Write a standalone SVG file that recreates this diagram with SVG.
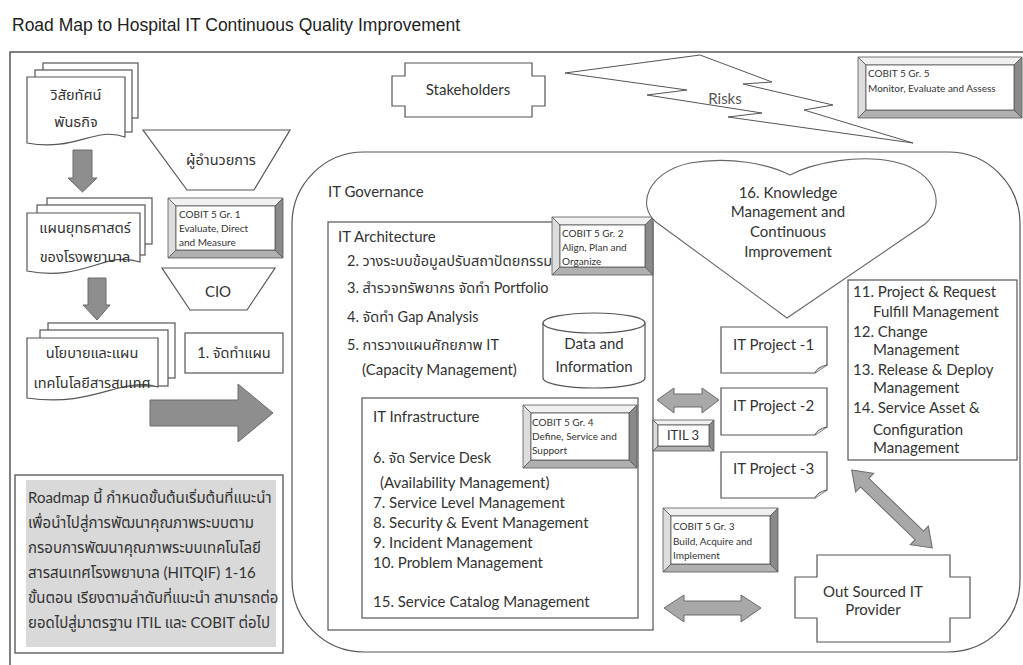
<svg xmlns="http://www.w3.org/2000/svg" width="1023" height="665" viewBox="0 0 1023 665">
  <style>
    .t { font-family: Lato, "Noto Sans Thai", "Noto Sans", "DejaVu Sans", sans-serif; fill: #333; font-size: 15px; }
    .th { font-family: Lato, "Noto Sans Thai", "Noto Sans", "DejaVu Sans", sans-serif; fill: #333; font-size: 14.5px; }
    .note { font-family: Lato, "Noto Sans Thai", "Noto Sans", "DejaVu Sans", sans-serif; fill: #333; font-size: 15px; }
    .s { font-family: Lato, "Noto Sans", sans-serif; fill: #333; font-size: 10px; }
    .m { text-anchor: middle; }
    .box { fill: #fff; stroke: #555; stroke-width: 1.2; }
    .garrow { fill: #8e8e8e; stroke: #6a6a6a; stroke-width: 1; }
    .darrow { fill: #a8a8a8; stroke: #6a6a6a; stroke-width: 1; }
    .bt { fill: #f0f0f0; stroke: #555; stroke-width: 0.8; }
    .bl { fill: #dcdcdc; stroke: #555; stroke-width: 0.8; }
    .br { fill: #8a8a8a; stroke: #555; stroke-width: 0.8; }
    .bb { fill: #b0b0b0; stroke: #555; stroke-width: 0.8; }
    .bf { fill: #fff; stroke: #555; stroke-width: 0.8; }
  </style>

  <rect width="1023" height="665" fill="#fff"/>

  <!-- title -->
  <text x="12" y="31" font-family="Liberation Sans, Arial, sans-serif" font-size="17.5" fill="#222">Road Map to Hospital IT Continuous Quality Improvement</text>

  <!-- outer frame -->
  <rect x="10" y="52" width="1040" height="650" fill="none" stroke="#555" stroke-width="1.5"/>

  <!-- IT Governance container -->
  <g id="it-governance">
    <rect x="292" y="152" width="728" height="500" rx="72" ry="72" class="box"/>
    <text x="328" y="197" class="t">IT Governance</text>
  </g>

  <!-- vision / mission documents -->
  <g id="doc-vision">
    <rect x="43" y="63" width="95" height="55" class="box"/>
    <rect x="35" y="70" width="97" height="62" class="box"/>
    <path d="M27,77 H125 V137 C95,126 75,152 27,143 Z" class="box"/>
    <text x="76" y="100" class="th m">วิสัยทัศน์</text>
    <text x="76" y="127" class="th m">พันธกิจ</text>
  </g>

  <g id="doc-strategy">
    <rect x="47" y="198" width="105" height="46" class="box"/>
    <rect x="37" y="205" width="108" height="50" class="box"/>
    <path d="M27,213 H140 V262 C105,250 85,282 27,271 Z" class="box"/>
    <text x="85" y="233" class="th m">แผนยุทธศาสตร์</text>
    <text x="85" y="262" class="th m">ของโรงพยาบาล</text>
  </g>

  <g id="doc-policy">
    <rect x="48" y="323" width="127" height="55" class="box"/>
    <rect x="40" y="330" width="128" height="56" class="box"/>
    <path d="M27,338 H158 V387 C120,376 95,408 27,398 Z" class="box"/>
    <text x="92" y="358" class="th m">นโยบายและแผน</text>
    <text x="92" y="388" class="th m">เทคโนโลยีสารสนเทศ</text>
  </g>

  <!-- director / CIO funnels -->
  <g id="director">
    <polygon points="143,130 290,130 254,190 187,190" class="box"/>
    <text x="221" y="165" class="th m" font-size="16">ผู้อำนวยการ</text>
  </g>

  <g id="cobit-gr1">
    <polygon points="168,198 283,198 275,206 176,206" class="bt"/>
    <polygon points="168,198 176,206 176,250 168,258" class="bl"/>
    <polygon points="283,198 283,258 275,250 275,206" class="br"/>
    <polygon points="168,258 283,258 275,250 176,250" class="bb"/>
    <rect x="176" y="206" width="99" height="44" class="bf"/>
    <text x="179" y="218" class="s">COBIT 5 Gr. 1</text>
    <text x="179" y="232" class="s">Evaluate, Direct</text>
    <text x="179" y="246" class="s">and Measure</text>
  </g>

  <g id="cio">
    <polygon points="162,268 275,268 247,310 190,310" class="box"/>
    <text x="218" y="297" class="t m">CIO</text>
  </g>

  <g id="step1-plan">
    <rect x="185" y="333" width="98" height="40" class="box"/>
    <text x="234" y="358" class="th m">1. จัดทำแผน</text>
  </g>

  <!-- stakeholders -->
  <g id="stakeholders">
    <path d="M405,63 H532 V76 H545 V106 H532 V117 H405 V106 H392 V76 H405 Z" class="box"/>
    <text x="468" y="95" class="t m">Stakeholders</text>
  </g>

  <!-- risks lightning -->
  <g id="risks">
    <path d="M565,73 L700,55 L772,82 L743,84 L833,105 L804,110 L913,143 L728,117 L762,113 L647,95 L687,90 Z" fill="#fff" stroke="#555" stroke-width="1"/>
    <text x="725" y="104" class="t m" style="fill:#555">Risks</text>
  </g>

  <g id="cobit-gr5">
    <polygon points="858,57 1022,57 1014,65 866,65" class="bt"/>
    <polygon points="858,57 866,65 866,110 858,118" class="bl"/>
    <polygon points="1022,57 1022,118 1014,110 1014,65" class="br"/>
    <polygon points="858,118 1022,118 1014,110 866,110" class="bb"/>
    <rect x="866" y="65" width="148" height="45" class="bf"/>
    <text x="868" y="77" class="s">COBIT 5 Gr. 5</text>
    <text x="868" y="92" class="s">Monitor, Evaluate and Assess</text>
  </g>

  <!-- IT architecture -->
  <g id="it-architecture">
    <rect x="328" y="222" width="325" height="408" class="box"/>
    <text x="338" y="242" class="t">IT Architecture</text>
    <text x="347" y="266" class="th">2. วางระบบข้อมูลปรับสถาปัตยกรรม</text>
    <text x="347" y="293" class="th">3. สำรวจทรัพยากร จัดทำ Portfolio</text>
    <text x="347" y="322" class="th">4. จัดทำ Gap Analysis</text>
    <text x="347" y="350" class="th">5. การวางแผนศักยภาพ IT</text>
    <text x="362" y="375" class="t">(Capacity Management)</text>
  </g>

  <g id="cobit-gr2">
    <polygon points="552,217 653,217 645,225 560,225" class="bt"/>
    <polygon points="552,217 560,225 560,267 552,275" class="bl"/>
    <polygon points="653,217 653,275 645,267 645,225" class="br"/>
    <polygon points="552,275 653,275 645,267 560,267" class="bb"/>
    <rect x="560" y="225" width="85" height="42" class="bf"/>
    <text x="562" y="237" class="s">COBIT 5 Gr. 2</text>
    <text x="562" y="251" class="s">Align, Plan and</text>
    <text x="562" y="265" class="s">Organize</text>
  </g>

  <g id="data-information">
    <path d="M543,323 V378 A51,10 0 0 0 645,378 V323" class="box"/>
    <ellipse cx="594" cy="323" rx="51" ry="10" class="box"/>
    <text x="594" y="349" class="t m">Data and</text>
    <text x="594" y="372" class="t m">Information</text>
  </g>

  <!-- IT infrastructure -->
  <g id="it-infrastructure">
    <rect x="362" y="398" width="276" height="220" class="box"/>
    <text x="373" y="422" class="t">IT Infrastructure</text>
    <text x="373" y="463" class="th">6. จัด Service Desk</text>
    <text x="380" y="488" class="t">(Availability Management)</text>
    <text x="373" y="508" class="t">7. Service Level Management</text>
    <text x="373" y="528" class="t">8. Security &amp; Event Management</text>
    <text x="373" y="548" class="t">9. Incident Management</text>
    <text x="373" y="568" class="t">10. Problem Management</text>
    <text x="373" y="607" class="t">15. Service Catalog Management</text>
  </g>

  <g id="cobit-gr4">
    <polygon points="523,405 637,405 629,413 531,413" class="bt"/>
    <polygon points="523,405 531,413 531,460 523,468" class="bl"/>
    <polygon points="637,405 637,468 629,460 629,413" class="br"/>
    <polygon points="523,468 637,468 629,460 531,460" class="bb"/>
    <rect x="531" y="413" width="98" height="47" class="bf"/>
    <text x="532" y="426" class="s">COBIT 5 Gr. 4</text>
    <text x="532" y="440" class="s">Define, Service and</text>
    <text x="532" y="454" class="s">Support</text>
  </g>

  <!-- knowledge management heart -->
  <g id="knowledge-management">
    <path d="M787,318 L656,222 C636,205 648,172 690,163 C730,156 768,164 790,175 C815,162 860,154 895,162 C938,172 946,206 925,224 Z" fill="#fff" stroke="#666" stroke-width="1.1"/>
    <text x="788" y="198" class="t m">16. Knowledge</text>
    <text x="788" y="217" class="t m">Management and</text>
    <text x="788" y="237" class="t m">Continuous</text>
    <text x="788" y="257" class="t m">Improvement</text>
  </g>

  <!-- service transition list -->
  <g id="service-transition">
    <rect x="848" y="280" width="169" height="180" class="box"/>
    <text x="853" y="297" class="t">11. Project &amp; Request</text>
    <text x="873" y="317" class="t">Fulfill Management</text>
    <text x="853" y="337" class="t">12. Change</text>
    <text x="873" y="355" class="t">Management</text>
    <text x="853" y="375" class="t">13. Release &amp; Deploy</text>
    <text x="873" y="393" class="t">Management</text>
    <text x="853" y="413" class="t">14. Service Asset &amp;</text>
    <text x="873" y="435" class="t">Configuration</text>
    <text x="873" y="453" class="t">Management</text>
  </g>

  <!-- IT projects -->
  <g id="it-project-1">
    <path d="M721,327 H827 V365 L815,373 H721 Z" class="box"/>
    <path d="M815,373 Q817,367 827,365" fill="#ddd" stroke="#555" stroke-width="1"/>
    <text x="733" y="350" class="t">IT Project -1</text>
  </g>
  <g id="it-project-2">
    <path d="M721,388 H827 V427 L815,435 H721 Z" class="box"/>
    <path d="M815,435 Q817,429 827,427" fill="#ddd" stroke="#555" stroke-width="1"/>
    <text x="733" y="411" class="t">IT Project -2</text>
  </g>
  <g id="it-project-3">
    <path d="M721,452 H827 V490 L815,498 H721 Z" class="box"/>
    <path d="M815,498 Q817,492 827,490" fill="#ddd" stroke="#555" stroke-width="1"/>
    <text x="733" y="474" class="t">IT Project -3</text>
  </g>

  <g id="itil3">
    <polygon points="653,420 714,420 709,425 658,425" class="bt"/>
    <polygon points="653,420 658,425 658,446 653,451" class="bl"/>
    <polygon points="714,420 714,451 709,446 709,425" class="br"/>
    <polygon points="653,451 714,451 709,446 658,446" class="bb"/>
    <rect x="658" y="425" width="51" height="21" class="bf"/>
    <text x="683" y="440" class="s m" style="font-size:13px">ITIL 3</text>
  </g>

  <g id="cobit-gr3">
    <polygon points="663,508 778,508 770,516 671,516" class="bt"/>
    <polygon points="663,508 671,516 671,564 663,572" class="bl"/>
    <polygon points="778,508 778,572 770,564 770,516" class="br"/>
    <polygon points="663,572 778,572 770,564 671,564" class="bb"/>
    <rect x="671" y="516" width="99" height="48" class="bf"/>
    <text x="673" y="530" class="s">COBIT 5 Gr. 3</text>
    <text x="673" y="545" class="s">Build, Acquire and</text>
    <text x="673" y="559" class="s">Implement</text>
  </g>

  <g id="outsourced-provider">
    <path d="M817,555 H950 V577 H970 V618 H950 V642 H817 V618 H795 V577 H817 Z" class="box"/>
    <text x="873" y="597" class="t m">Out Sourced IT</text>
    <text x="873" y="615" class="t m">Provider</text>
  </g>

  <!-- roadmap note -->
  <g id="roadmap-note">
    <rect x="15" y="475" width="268" height="178" fill="#fff" stroke="#444" stroke-width="1.2"/>
    <rect x="26" y="480" width="250" height="167" fill="#d9d9d9"/>
    <text x="28" y="503" class="note">Roadmap นี้ กำหนดขั้นต้นเริ่มต้นที่แนะนำ</text>
    <text x="28" y="528" class="note">เพื่อนำไปสู่การพัฒนาคุณภาพระบบตาม</text>
    <text x="28" y="553" class="note">กรอบการพัฒนาคุณภาพระบบเทคโนโลยี</text>
    <text x="28" y="578" class="note">สารสนเทศโรงพยาบาล (HITQIF) 1-16</text>
    <text x="28" y="603" class="note">ขั้นตอน เรียงตามลำดับที่แนะนำ สามารถต่อ</text>
    <text x="28" y="628" class="note">ยอดไปสู่มาตรฐาน ITIL และ COBIT ต่อไป</text>
  </g>

  <!-- connectors -->
  <g id="connectors">
    <polygon points="73,150 92,150 92,178 97,178 82.5,192 68,178 73,178" class="garrow"/>
    <polygon points="88,278 106,278 106,305 110,305 97,320 83,305 88,305" class="garrow"/>
    <polygon points="150,400 238,400 238,384 273,413 238,442 238,426 150,426" class="garrow"/>
    <polygon points="657,400 674,388 674,394 702,394 702,388 719,400 702,413 702,407 674,407 674,413" class="darrow"/>
    <polygon points="664,608 684,595 684,601 741,601 741,595 761,608 741,622 741,615 684,615 684,622" class="darrow"/>
    <g transform="translate(892,509) rotate(44)">
      <polygon points="-56,0 -38,-13 -38,-6 38,-6 38,-13 56,0 38,13 38,6 -38,6 -38,13" class="darrow"/>
    </g>
  </g>
</svg>
